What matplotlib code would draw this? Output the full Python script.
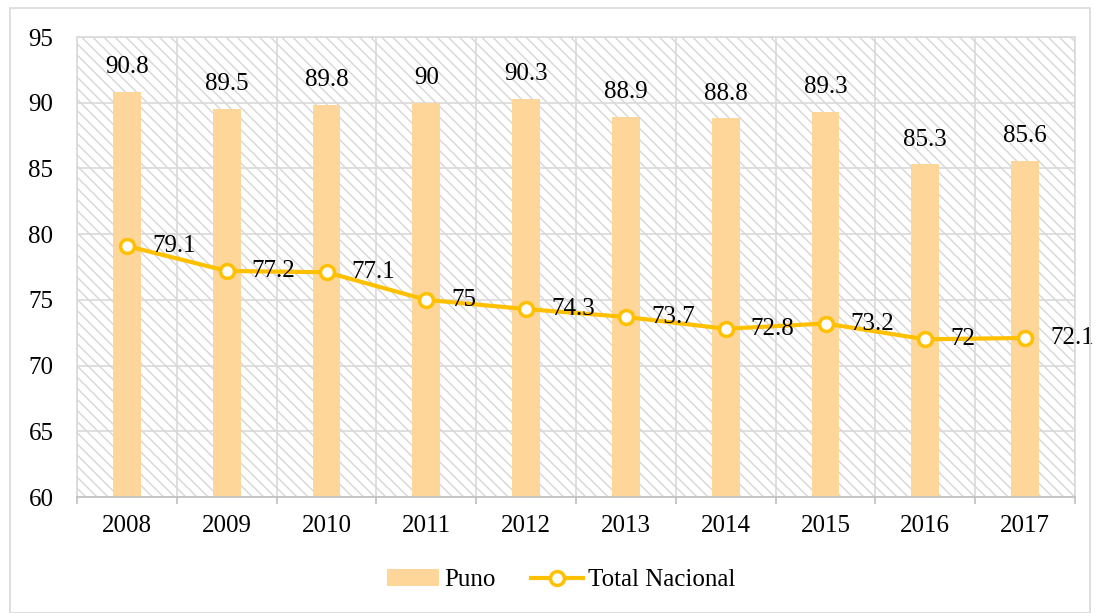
import matplotlib
matplotlib.use("Agg")
import matplotlib.pyplot as plt
from matplotlib.patches import Rectangle, Patch
from matplotlib.lines import Line2D
import numpy as np

years = ["2008", "2009", "2010", "2011", "2012", "2013", "2014", "2015", "2016", "2017"]
puno = [90.8, 89.5, 89.8, 90, 90.3, 88.9, 88.8, 89.3, 85.3, 85.6]
nacional = [79.1, 77.2, 77.1, 75, 74.3, 73.7, 72.8, 73.2, 72, 72.1]
yticks = [60, 65, 70, 75, 80, 85, 90, 95]

plt.rcParams['font.family'] = ['Liberation Serif', 'DejaVu Serif']
plt.rcParams['hatch.linewidth'] = 1.0
plt.rcParams['hatch.color'] = '#d6d6d6'

FS = 18

fig = plt.figure(figsize=(10.96, 6.13), dpi=100)
ax = fig.add_axes([77/1096, 1-497/613, (1075-77)/1096, (497-37)/613])

x = np.arange(len(years))
ax.set_xlim(-0.5, len(years) - 0.5)
ax.set_ylim(60, 95)

# hatched background
bg = Rectangle((0, 0), 1, 1, transform=ax.transAxes, facecolor='white',
               edgecolor='#d6d6d6', hatch='\\' * 3, linewidth=0, zorder=0)
ax.add_patch(bg)

grid_c = '#d9d9d9'
for yv in yticks:
    ax.axhline(yv, color=grid_c, lw=1.2, zorder=1)
bounds = np.arange(-0.5, len(years), 1.0)
for b in bounds:
    ax.axvline(b, color=grid_c, lw=1.2, zorder=1)

bar_c = '#FFD699'
line_c = '#FFC000'
ax.bar(x, [p - 60 for p in puno], bottom=60, width=0.28, color=bar_c, zorder=2)
ax.plot(x, nacional, color=line_c, lw=3, marker='o', markersize=10,
        markerfacecolor='white', markeredgecolor=line_c, markeredgewidth=2.5, zorder=3)

for xi, v in zip(x, puno):
    ax.annotate(f"{v:g}", (xi, v), xytext=(0, 10), textcoords='offset points',
                ha='center', va='bottom', fontsize=FS, zorder=4)
for xi, v in zip(x, nacional):
    ax.annotate(f"{v:g}", (xi, v), xytext=(18, 0), textcoords='offset points',
                ha='left', va='center', fontsize=FS, zorder=4)

ax.set_xticks(x)
ax.set_xticklabels(years)
ax.set_xticks(bounds, minor=True)
ax.set_yticks(yticks)
ax.tick_params(axis='x', which='major', length=0, labelsize=FS, pad=13)
ax.tick_params(axis='y', which='major', length=0, labelsize=FS, pad=17)
ax.tick_params(axis='x', which='minor', length=5, width=1.2, color='#bfbfbf')
for s in ax.spines.values():
    s.set_color(grid_c)
    s.set_linewidth(1.2)
ax.spines['bottom'].set_color('#bfbfbf')

handles = [Patch(facecolor=bar_c, edgecolor='none'),
           Line2D([0], [0], color=line_c, lw=3, marker='o', markersize=10,
                  markerfacecolor='white', markeredgecolor=line_c, markeredgewidth=2.5)]
fig.legend(handles, ['Puno', 'Total Nacional'], loc='center', bbox_to_anchor=(561/1096, 1-580/613),
           ncol=2, frameon=False, fontsize=FS, handlelength=2.1, columnspacing=1.4, handletextpad=0.2)

border = Rectangle((10/1096, 0), 1080/1096, 1 - 8/613, transform=fig.transFigure,
                   fill=False, edgecolor='#d9d9d9', lw=1.2)
fig.patches.append(border)

fig.savefig("out.png", dpi=100)
